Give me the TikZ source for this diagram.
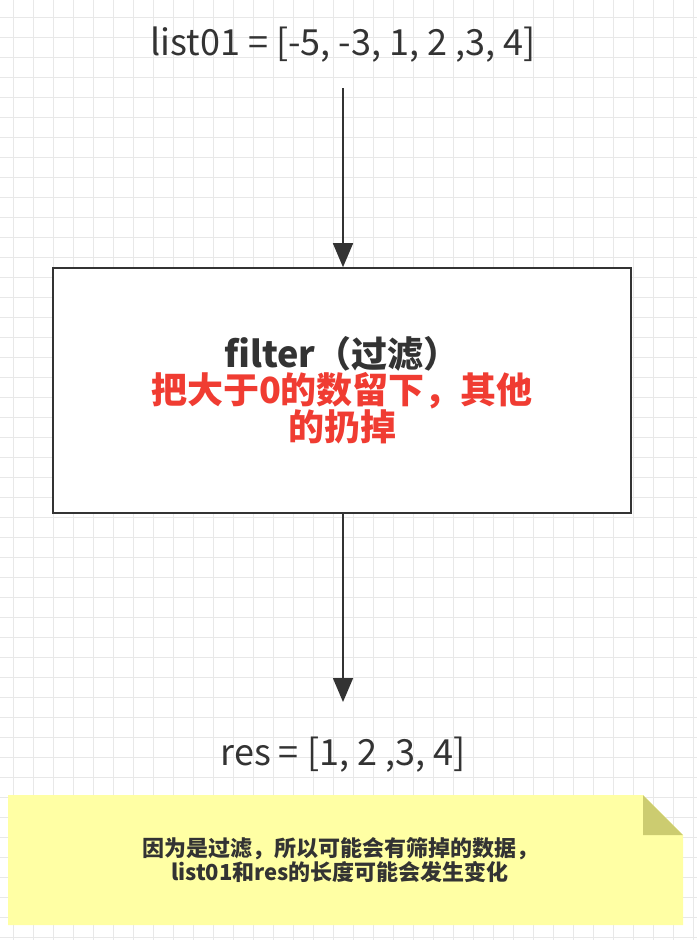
\documentclass[tikz,border=0pt]{standalone}
\usepackage{fontspec}
\setmainfont{Noto Sans CJK SC}
\usetikzlibrary{arrows.meta}
\definecolor{gridc}{RGB}{232,232,232}
\definecolor{txt}{RGB}{51,51,51}
\definecolor{redt}{RGB}{240,60,50}
\definecolor{notefill}{RGB}{255,255,164}
\definecolor{foldc}{RGB}{204,204,112}
\newcommand{\lblfont}{\fontsize{36}{44}\selectfont}
\newcommand{\boxfont}{\fontsize{36}{62}\selectfont\bfseries}
\newcommand{\notefont}{\fontsize{22}{34}\selectfont\bfseries}
\tikzset{
  flow/.style={draw=txt,line width=1.6pt,-{Triangle[length=24pt,width=20pt]}},
  lbl/.style={text=txt},
}
\begin{document}
\begin{tikzpicture}[x=1pt,y=-1pt]
\useasboundingbox (0,0) rectangle (697,940);
\fill[white] (0,0) rectangle (697,940);
\foreach \i in {0,...,35} {\draw[gridc,line width=0.6pt] (13+20*\i,0) -- (13+20*\i,940);}
\foreach \j in {0,...,47} {\draw[gridc,line width=0.6pt] (0,17+20*\j) -- (697,17+20*\j);}
\node[lbl] (src) at (343,45) {\lblfont list01 = [-5, -3, 1, 2 ,3, 4]};
\node[draw=txt,line width=1.6pt,fill=white,minimum width=578pt,minimum height=245pt,align=center] (box) at (342,390.5)
  {\boxfont\textcolor{txt}{filter（过滤）}\\ \boxfont\textcolor{redt}{把大于0的数留下，其他}\\ \boxfont\textcolor{redt}{的扔掉}};
\node[lbl] (res) at (343,755) {\lblfont res = [1, 2 ,3, 4]};
\coordinate (s1) at (343,88);
\coordinate (e2) at (343,702);
\draw[flow] (s1) -- (box.north -| s1);
\draw[flow] (box.south -| s1) -- (e2);
\fill[notefill] (8,795) -- (643,795) -- (683,835) -- (683,925) -- (8,925) -- cycle;
\fill[foldc] (643,795) -- (683,835) -- (643,835) -- cycle;
\node[text=txt,align=center] (note) at (340,860)
  {\notefont 因为是过滤，所以可能会有筛掉的数据，\\ \notefont list01和res的长度可能会发生变化};
\end{tikzpicture}
\end{document}
